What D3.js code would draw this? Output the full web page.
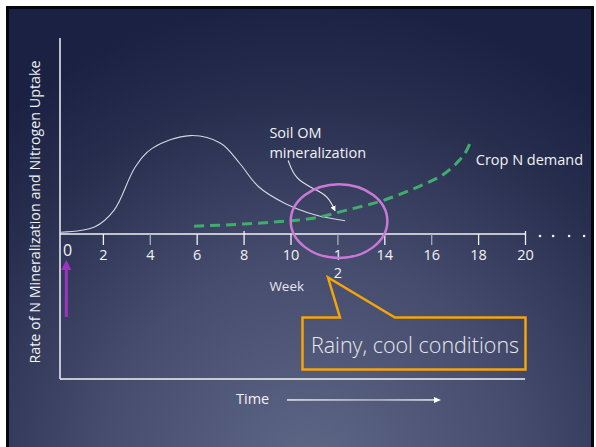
<!DOCTYPE html>
<html><head><meta charset="utf-8">
<script src="https://cdn.jsdelivr.net/npm/d3@7"></script>
<style>
html,body{margin:0;padding:0;background:#fff;}
svg{display:block;}
text{font-family:"Open Sans","Noto Sans",sans-serif;}
</style></head>
<body>
<svg id="chart" width="596" height="447"></svg>
<script>
// ---- data ----
const weekTicks = [0, 2, 4, 6, 8, 10, 12, 14, 16, 18, 20];
const tickLabels = ["0", "2", "4", "6", "8", "10", "12", "14", "16", "18", "20"];
const mineralWeeks = [0.2, 1.66, 2.48, 3.38, 4.1, 5.72, 7.02, 7.83, 8.64, 9.77, 11.07, 12.33];
const mineralRate  = [0.9, 3.7, 12.2, 34.2, 43.7, 50.2, 46.3, 36.1, 24.1, 15.6, 9.7, 6.8];
const demandWeeks  = [5.89, 8.02, 10.03, 10.96, 12.4, 14.0, 15.29, 15.94, 16.59, 17.08, 17.48, 17.73];
const demandRate   = [4.0, 5.1, 6.8, 8.0, 12.2, 17.3, 23.3, 26.7, 31.0, 36.1, 42.0, 48.3];
const continuationDots = [20.64, 21.2, 21.88, 22.52];
const labels = {
  yTitle: "Rate of N Mineralization and Nitrogen Uptake",
  xTitle: "Time",
  week: "Week",
  soil1: "Soil OM",
  soil2: "mineralization",
  crop: "Crop N demand",
  callout: "Rainy, cool conditions"
};

const svg = d3.select("#chart");
const defs = svg.append("defs");

// background
const grad = defs.append("radialGradient").attr("id","bg")
  .attr("gradientUnits","userSpaceOnUse")
  .attr("cx",310).attr("cy",470).attr("r",470);
grad.append("stop").attr("offset","0").attr("stop-color","#5f6787");
grad.append("stop").attr("offset","0.45").attr("stop-color","#454c6d");
grad.append("stop").attr("offset","0.8").attr("stop-color","#262d4d");
grad.append("stop").attr("offset","1").attr("stop-color","#1a2143");

svg.append("rect").attr("x",6).attr("y",6).attr("width",590).attr("height",441).attr("fill","#05070d");
svg.append("rect").attr("x",9).attr("y",9).attr("width",582).attr("height",438).attr("fill","url(#bg)");
svg.append("rect").attr("x",594).attr("y",6).attr("width",2).attr("height",441).attr("fill","#fff");

const x = d3.scaleLinear().domain([0,20]).range([56,525]);
const y = d3.scaleLinear().domain([0,100]).range([234,38]);

const white = "#f2f2f4";

// axes frame
svg.append("line").attr("x1",60).attr("x2",60).attr("y1",y(100)).attr("y2",379)
  .attr("stroke",white).attr("stroke-width",1.5);
svg.append("line").attr("x1",60).attr("x2",x(20)).attr("y1",379).attr("y2",379)
  .attr("stroke",white).attr("stroke-width",1.5);

// x axis
const axis = d3.axisBottom(x).tickValues(weekTicks).tickSize(11).tickPadding(5)
  .tickFormat((d,i)=>tickLabels[i]);
const gx = svg.append("g").attr("transform",`translate(0,${y(0)})`).call(axis);
gx.select(".domain").attr("d",`M60,0H${x(20)}`).attr("stroke",white).attr("stroke-width",1.5);
gx.selectAll(".tick line").attr("stroke",(d)=> (d===4||d===12||d===16)?"#a9adbd":white)
  .attr("stroke-width",1.3).attr("y1",(d)=> d===8||d===20?-3:0);
gx.selectAll(".tick").filter(d=>d===0).select("line").remove();
gx.selectAll(".tick text").attr("fill",white).attr("font-size",14.5)
  .attr("font-family",'"Open Sans","Noto Sans",sans-serif');
gx.selectAll(".tick").filter(d=>d===0).select("text").attr("x",11).attr("y",11)
  .attr("font-family",'"Liberation Serif",serif').attr("font-size",16);
gx.selectAll(".tick").filter(d=>d===12).select("text").each(function(d,i){
  const t = d3.select(this); const s = t.text(); t.text("");
  t.append("tspan").attr("x",0).text(s[0]);
  t.append("tspan").attr("x",0).attr("dy","1.2em").text(s[1]);
});

// dots after axis end
svg.append("g").selectAll("circle").data(continuationDots).join("circle")
  .attr("cx",d=>x(d)).attr("cy",y(0)+2).attr("r",1.3).attr("fill",white);

// mineralization curve
const mData = mineralWeeks.map((w,i)=>[w, mineralRate[i]]);
svg.append("path").datum(mData)
  .attr("d", d3.line().x(d=>x(d[0])).y(d=>y(d[1])).curve(d3.curveCatmullRom.alpha(0.5)))
  .attr("fill","none").attr("stroke","#d4d6e0").attr("stroke-width",1.1);

// crop demand curve
const dData = demandWeeks.map((w,i)=>[w, demandRate[i]]);
svg.append("path").datum(dData)
  .attr("d", d3.line().x(d=>x(d[0])).y(d=>y(d[1])).curve(d3.curveMonotoneX))
  .attr("fill","none").attr("stroke","#3fae6c").attr("stroke-width",3)
  .attr("stroke-dasharray","10,6");

// annotation arrow (soil OM)
defs.append("marker").attr("id","ah").attr("viewBox","0 0 10 10").attr("refX",9).attr("refY",5)
  .attr("markerWidth",5).attr("markerHeight",5).attr("orient","auto-start-reverse")
  .append("path").attr("d","M0,0L10,5L0,10z").attr("fill","#fff");
const annPts = [[9.9,37.5],[10.2,28],[11.0,23],[11.6,19.5],[11.9,11.8]];
svg.append("path").datum(annPts)
  .attr("d", d3.line().x(d=>x(d[0])).y(d=>y(d[1])).curve(d3.curveBasis))
  .attr("fill","none").attr("stroke","#e8e8ee").attr("stroke-width",1.1)
  .attr("marker-end","url(#ah)");

// purple ellipse
const ell = {cw:12.07, cr:6.6, rw:2.06, rr:18.8};
svg.append("ellipse").attr("cx",x(ell.cw)).attr("cy",y(ell.cr))
  .attr("rx",x(ell.cw+ell.rw)-x(ell.cw)).attr("ry",y(0)-y(ell.rr))
  .attr("fill","none").attr("stroke","#c97ad6").attr("stroke-width",2.5);

// text labels
svg.append("text").attr("x",x(9.1)).attr("y",y(49)).attr("fill",white).attr("font-size",14.5).text(labels.soil1);
svg.append("text").attr("x",x(9.1)).attr("y",y(38.8)).attr("fill",white).attr("font-size",14.5).text(labels.soil2);
svg.append("text").attr("x",x(17.9)).attr("y",y(35)).attr("fill",white).attr("font-size",14.5).text(labels.crop);
svg.append("text").attr("x",x(9.1)).attr("y",290.5).attr("fill","#e6e7ee").attr("font-size",13.5).text(labels.week);

// y title
svg.append("text").attr("transform","translate(40,212) rotate(-90)")
  .attr("text-anchor","middle").attr("fill",white).attr("font-size",14.3).text(labels.yTitle);

// purple start arrow
defs.append("marker").attr("id","ph").attr("viewBox","0 0 10 10").attr("refX",5).attr("refY",5)
  .attr("markerWidth",3.4).attr("markerHeight",3.4).attr("orient","auto")
  .append("path").attr("d","M0,0L10,5L0,10z").attr("fill","#9b35bd");
svg.append("line").attr("x1",x(0.44)).attr("x2",x(0.44)).attr("y1",317).attr("y2",265)
  .attr("stroke","#9b35bd").attr("stroke-width",3).attr("marker-end","url(#ph)");

// time arrow
const tg = defs.append("linearGradient").attr("id","tg");
tg.append("stop").attr("offset","0").attr("stop-color","#ffffff");
tg.append("stop").attr("offset","0.6").attr("stop-color","#c8cad4");
tg.append("stop").attr("offset","1").attr("stop-color","#ffffff");
svg.append("text").attr("x",236).attr("y",404).attr("fill",white).attr("font-size",14.5).text(labels.xTitle);
svg.append("rect").attr("x",287).attr("y",399.3).attr("width",148).attr("height",1.3).attr("fill","url(#tg)");
svg.append("path").attr("d","M434,397L441,400L434,403z").attr("fill","#fff");

// callout
const cx0 = 302.5, cx1 = 525.5, cy0 = 317.5, cy1 = 369.5;
const tip = [x(11.6), 277.5];
svg.append("path")
  .attr("d",`M${cx0},${cy0}H340L${tip[0]},${tip[1]}L395,${cy0}H${cx1}V${cy1}H${cx0}Z`)
  .attr("fill","none").attr("stroke","#f5a40a").attr("stroke-width",2.5).attr("stroke-linejoin","miter");
svg.append("text").attr("x",(cx0+cx1)/2 + 1).attr("y",352.5).attr("text-anchor","middle")
  .attr("fill","#e9e9ef").attr("font-size",21.5).attr("font-weight",300).text(labels.callout);
</script>
</body></html>
